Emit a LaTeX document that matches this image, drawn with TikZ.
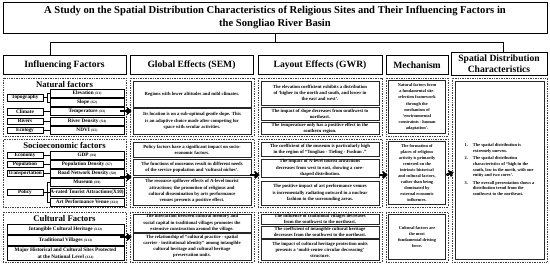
\documentclass[tikz,border=0pt]{standalone}
\usepackage{fontspec}
\setmainfont{Liberation Serif}
\usetikzlibrary{arrows.meta}
\newcommand\xlab[1]{{\fontsize{3.4}{4}\selectfont(#1)}}
\tikzset{
  hdr/.style={draw,line width=0.8pt,inner sep=0pt,align=center,
    font=\fontsize{9.6}{11.5}\selectfont\bfseries},
  grp/.style={draw=black!75,densely dotted,line width=0.7pt,inner sep=0pt},
  sub/.style={inner sep=0pt,font=\fontsize{8.7}{10}\selectfont\bfseries},
  fl/.style={draw,line width=0.5pt,minimum width=36pt,minimum height=6.5pt,inner sep=0pt,
    font=\fontsize{5.2}{6}\selectfont\bfseries},
  fv/.style={draw,line width=0.5pt,minimum width=74pt,minimum height=8pt,inner sep=0pt,
    font=\fontsize{5.2}{6}\selectfont\bfseries},
  cv/.style={draw,line width=0.5pt,minimum width=117pt,inner sep=0pt,align=center,
    font=\fontsize{5.2}{6.4}\selectfont\bfseries},
  eff/.style={draw=black!85,line width=0.6pt,minimum width=118pt,inner sep=0pt,align=center,
    font=\fontsize{4.7}{6.2}\selectfont\bfseries},
  mec/.style={draw=black!85,line width=0.6pt,minimum width=57pt,inner sep=0pt,align=center,
    font=\fontsize{4.3}{6.1}\selectfont\bfseries},
  lnk/.style={line width=0.5pt},
  arr/.style={line width=2.4pt,-{Triangle[length=4.5pt,width=7.5pt]}}
}
\begin{document}
\begin{tikzpicture}[x=1pt,y=-1pt]
        \useasboundingbox (0,0) rectangle (550,265);
        \node[hdr,minimum width=544pt,minimum height=31pt,font=\fontsize{10.6}{12.5}\selectfont\bfseries] (title) at (275,17.5)
            {A Study on the Spatial Distribution Characteristics of Religious Sites and Their Influencing Factors in\\the Songliao River Basin};
        \node[hdr,minimum width=123pt,minimum height=18.5pt] (hinf) at (64.5,64.75) {Influencing Factors};
        \node[hdr,minimum width=123pt,minimum height=18.5pt] (hsem) at (191.5,64.75) {Global Effects (SEM)};
        \node[hdr,minimum width=124pt,minimum height=18.5pt] (hgwr) at (320,64.75) {Layout Effects (GWR)};
        \node[hdr,minimum width=62pt,minimum height=18.5pt] (hmec) at (417,64.75) {Mechanism};
        \node[hdr,minimum width=96pt,minimum height=23pt] (hspat) at (499,63.5) {Spatial Distribution\\Characteristics};
        \coordinate (busl) at (50,42);
        \coordinate (busr) at (503,42);
        \draw[lnk] (title.south) -- (title.south |- busl);
        \draw[lnk] (busl |- hinf.north) -- (busl) -- (busr) -- (busr |- hspat.north);

        \node[grp,minimum width=123pt,minimum height=58pt] (nat) at (64.5,107) {};
        \node[grp,minimum width=123pt,minimum height=68pt] (soc) at (64.5,173) {};
        \node[grp,minimum width=123pt,minimum height=50pt] (cul) at (64.5,237) {};
        \node[grp,minimum width=124pt,minimum height=58pt] (sem1) at (192,107) {};
        \node[grp,minimum width=124pt,minimum height=68pt] (sem2) at (192,173) {};
        \node[grp,minimum width=124pt,minimum height=50pt] (sem3) at (192,237) {};
        \node[grp,minimum width=124pt,minimum height=58pt] (gwr1) at (320,107) {};
        \node[grp,minimum width=124pt,minimum height=68pt] (gwr2) at (320,173) {};
        \node[grp,minimum width=124pt,minimum height=50pt] (gwr3) at (320,237) {};
        \node[grp,minimum width=62pt,minimum height=58pt] (mec1) at (417,107) {};
        \node[grp,minimum width=62pt,minimum height=68pt] (mec2) at (417,173) {};
        \node[grp,minimum width=62pt,minimum height=50pt] (mec3) at (417,237) {};
        \node[grp,minimum width=95pt,minimum height=184pt] (spat) at (499.5,170) {};

        \node[sub] (tnat) at (64.5,84) {Natural factors};
        \node[fl] (topo) at (25,97.5) {Topography};
        \node[fl] (clim) at (25,111.5) {Climate};
        \node[fl] (rivl) at (25,121) {Rivers};
        \node[fl] (eco) at (25,130) {Ecology};
        \node[fv] (elev) at (87,93) {Elevation \xlab{X1}};
        \node[fv] (slope) at (87,102) {Slope \xlab{X2}};
        \node[fv] (temp) at (87,111.5) {Temperature \xlab{X3}};
        \node[fv] (riv) at (87,121) {River Density \xlab{X4}};
        \node[fv] (ndvi) at (87,130) {NDVI \xlab{X5}};
        \draw[lnk] (topo.east) -- ++(3.5,0) |- (elev.west);
        \draw[lnk] (topo.east) -- ++(3.5,0) |- (slope.west);
        \draw[lnk] (clim) -- (temp);
        \draw[lnk] (rivl) -- (riv);
        \draw[lnk] (eco) -- (ndvi);

        \node[sub] (tsoc) at (64.5,145) {Socioeconomic factors};
        \node[fl] (econ) at (25,155) {Economy};
        \node[fl] (popl) at (25,164) {Population};
        \node[fl] (trans) at (25,173) {Transportation};
        \node[fl] (pol) at (25,192) {Policy};
        \node[fv] (gdp) at (87,155) {GDP \xlab{X6}};
        \node[fv] (popd) at (87,164) {Population Density \xlab{X7}};
        \node[fv] (road) at (87,173) {Road Network Density \xlab{X8}};
        \node[fv] (mus) at (87,182.5) {Museum \xlab{X9}};
        \node[fv] (arat) at (87,192) {A-rated Tourist Attractions(X10)};
        \node[fv] (art) at (87,202) {Art Performance Venue \xlab{X11}};
        \draw[lnk] (econ) -- (gdp);
        \draw[lnk] (popl) -- (popd);
        \draw[lnk] (trans) -- (road);
        \draw[lnk] (pol.east) -- ++(3.5,0) |- (mus.west);
        \draw[lnk] (pol) -- (arat);
        \draw[lnk] (pol.east) -- ++(3.5,0) |- (art.west);

        \node[sub] (tcul) at (64.5,218.5) {Cultural Factors};
        \node[cv,minimum height=10pt] (ich) at (65.5,229) {Intangible Cultural Heritage \xlab{X12}};
        \node[cv,minimum height=10pt] (tv) at (65.5,240.5) {Traditional Villages \xlab{X13}};
        \node[cv,minimum height=14pt] (hcs) at (65.5,253.5) {Major Historical and Cultural Sites Protected\\at the National Level \xlab{X14}};

        \node[eff,minimum height=26pt] (sem1a) at (192,94) {Regions with lower altitudes and mild climates.};
        \node[eff,minimum height=26pt] (sem1b) at (192,121) {Its location is on a sub-optimal gentle slope. This\\is an adaptive choice made after competing for\\space with secular activities.};
        \node[eff,minimum height=15pt] (sem2a) at (192,149.5) {Policy factors have a significant impact on socio-\\economic factors.};
        \node[eff,minimum height=16pt] (sem2b) at (192,167) {The functions of museums result in different needs\\of the service population and `cultural niches'.};
        \node[eff,minimum height=28pt] (sem2c) at (192,191) {The resource spillover effects of A-level tourist\\attractions; the promotion of religious and\\cultural dissemination by arts performance\\venues presents a positive effect.};
        \node[eff,minimum height=18pt] (sem3a) at (192,223) {The interaction between cultural memory and\\social capital in traditional villages promotes the\\extensive construction around the village.};
        \node[eff,minimum height=27pt] (sem3b) at (192,246.5) {The relationship of ``cultural practice - spatial\\carrier - institutional identity'' among intangible\\cultural heritage and cultural heritage\\preservation units.};

        \node[eff,minimum height=24pt] (gwr1a) at (320,93) {The elevation coefficient exhibits a distribution\\of `higher in the north and south, and lower in\\the east and west'.};
        \node[eff,minimum height=13pt] (gwr1b) at (320,113.5) {The impact of slope decreases from southwest to\\northeast.};
        \node[eff,minimum height=12pt] (gwr1c) at (320,128) {The temperature only has a positive effect in the\\southern region.};
        \node[eff,minimum height=14pt] (gwr2a) at (320,149) {The coefficient of the museum is particularly high\\in the region of ``Tongliao - Tieling - Fushun .''};
        \node[eff,minimum height=18pt] (gwr2b) at (320,168) {The impact of A-level tourist attractions\\decreases from west to east, showing a core-\\shaped distribution.};
        \node[eff,minimum height=24pt] (gwr2c) at (320,193) {The positive impact of art performance venues\\is incrementally radiating outward in a nuclear\\fashion to the surrounding areas.};
        \node[eff,minimum height=10.5pt] (gwr3a) at (320,219.25) {The influence of traditional villages decreases\\from the southwest to the northeast.};
        \node[eff,minimum height=12pt] (gwr3b) at (320,232) {The coefficient of intangible cultural heritage\\decreases from the southwest to the northeast.};
        \node[eff,minimum height=20.5pt] (gwr3c) at (320,249.75) {The impact of cultural heritage protection units\\presents a `multi-center circular decreasing'\\structure.};

        \node[mec,minimum height=53pt] (mec1a) at (417,107) {Natural factors form\\a fundamental site-\\selection framework\\through the\\mechanism of\\`environmental\\constraints - human\\adaptation'.};
        \node[mec,minimum height=63pt] (mec2a) at (417,173) {The formation of\\places of religious\\activity is primarily\\centered on the\\intrinsic historical\\and cultural factors,\\rather than being\\dominated by\\external economic\\influences.};
        \node[mec,minimum height=45pt] (mec3a) at (417,237) {Cultural factors are\\the most\\fundamental driving\\force.};

        \node[draw=black!85,line width=0.6pt,minimum width=89pt,minimum height=178pt,inner sep=0pt,
            font=\fontsize{4.4}{5.6}\selectfont\bfseries] (spin) at (499.5,170)
            {\begin{tabular}{@{}l@{\hspace{5pt}}l@{}}
            1. & The spatial distribution is\\
               & extremely uneven.\\[2pt]
            2. & The spatial distribution\\
               & characteristics of ``high in the\\
               & south, low in the north, with one\\
               & entity and two cores'.\\[2pt]
            3. & The overall presentation shows a\\
               & distribution trend from the\\
               & southwest to the northeast.
            \end{tabular}};

        \draw[arr] ([xshift=-6pt,yshift=-4pt]nat.east) -- ([xshift=-1pt,yshift=-4pt]nat.east -| sem1b.west);
        \draw[arr] ([xshift=-6pt,yshift=-4pt]soc.east) -- ([xshift=-1pt,yshift=-4pt]soc.east -| sem2b.west);
        \draw[arr] ([xshift=-6pt]cul.east) -- ([xshift=-1pt]cul.east -| sem3b.west);
        \draw[arr] ([xshift=-4pt,yshift=-2pt]sem2.east) -- ([xshift=2pt,yshift=-2pt]gwr2.west);
        \draw[arr] ([xshift=-3pt,yshift=-2pt]gwr2.east) -- ([xshift=2pt,yshift=-2pt]mec2.west);
        \draw[arr] ([xshift=-2pt,yshift=-2pt]mec2.east) -- ([xshift=2pt,yshift=-2pt]spat.west);
\end{tikzpicture}
\end{document}
